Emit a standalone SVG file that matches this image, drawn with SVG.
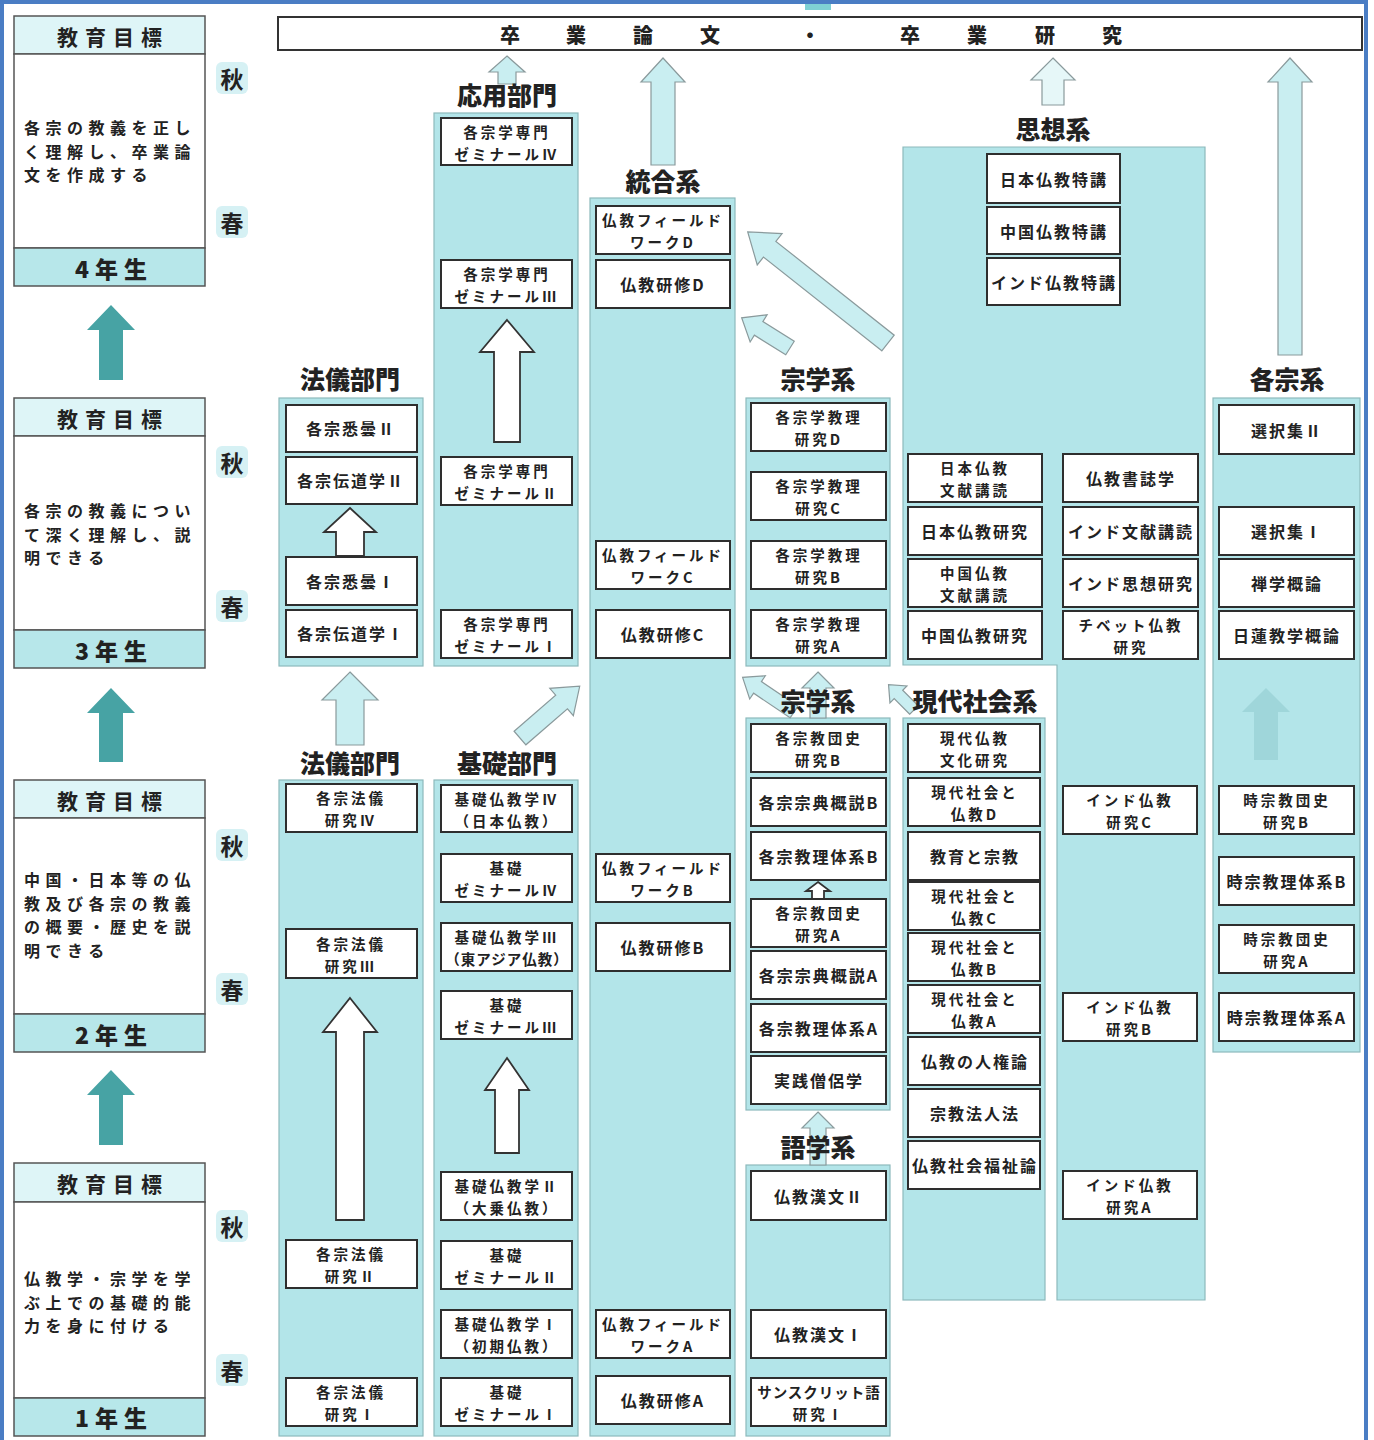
<svg xmlns="http://www.w3.org/2000/svg" width="1374" height="1440" viewBox="0 0 1374 1440">
<style>
text{font-family:"Noto Sans CJK JP","Noto Sans",sans-serif;fill:#222}
.col{fill:#b3e5e9;stroke:#8db9bc;stroke-width:1.2}
.box{fill:#fff;stroke:#2e2e2e;stroke-width:2}
.t{font-size:16px;font-weight:700;text-anchor:middle;letter-spacing:2px;dominant-baseline:central}
.t2{font-size:14.5px;font-weight:700;text-anchor:middle;letter-spacing:3px;dominant-baseline:central}
.tn{letter-spacing:1px}
.lbl{font-size:25px;font-weight:900;text-anchor:middle;dominant-baseline:central}
.gh{fill:#def5f7;stroke:#555;stroke-width:1.5}
.gb{fill:#fff;stroke:#555;stroke-width:1.5}
.gf{fill:#b7e7ea;stroke:#555;stroke-width:1.5}
.ght{font-size:21px;font-weight:700;text-anchor:middle;letter-spacing:7px;dominant-baseline:central}
.gft{font-size:23px;font-weight:900;text-anchor:middle;letter-spacing:6px;dominant-baseline:central}
.gtx{font-size:16px;font-weight:700;letter-spacing:5.5px}
.sbg{fill:#d6f1f4}
.sn{font-size:23px;font-weight:700;text-anchor:middle;dominant-baseline:central}
.ya{fill:#47a3a4}
.la{fill:#c9eef1;stroke:#8a9a9c;stroke-width:1.2}
.wa{fill:#fff;stroke:#333;stroke-width:1.8}
.fa{fill:#9fd6da}
.tt{font-size:20px;font-weight:900;text-anchor:middle;dominant-baseline:central}
</style>

<rect x="2" y="2" width="1364" height="1446" fill="#fff" stroke="#4a7dc4" stroke-width="4"/>
<rect x="805" y="4" width="26" height="6" fill="#7fd0d4"/>

<!-- Title -->
<g id="title">
<rect x="278" y="17" width="1084" height="33" fill="#fff" stroke="#333" stroke-width="2"/>
<text class="tt" y="34"><tspan x="510">卒</tspan><tspan x="576">業</tspan><tspan x="643">論</tspan><tspan x="710">文</tspan><tspan x="810">・</tspan><tspan x="910">卒</tspan><tspan x="977">業</tspan><tspan x="1045">研</tspan><tspan x="1112">究</tspan></text>
</g>

<!-- Year goals -->
<g id="year4">
<rect class="gh" x="14" y="16" width="191" height="38"/>
<rect class="gb" x="14" y="54" width="191" height="194"/>
<rect class="gf" x="14" y="248" width="191" height="38"/>
<text class="ght" x="113" y="36">教育目標</text>
<text class="gtx"><tspan x="24" y="134">各宗の教義を正し</tspan><tspan x="24" y="157.5">く理解し、卒業論</tspan><tspan x="24" y="181">文を作成する</tspan></text>
<text class="gft" x="114" y="268">4年生</text>
</g>
<g id="year3">
<rect class="gh" x="14" y="398" width="191" height="38"/>
<rect class="gb" x="14" y="436" width="191" height="194"/>
<rect class="gf" x="14" y="630" width="191" height="38"/>
<text class="ght" x="113" y="418">教育目標</text>
<text class="gtx"><tspan x="24" y="517">各宗の教義につい</tspan><tspan x="24" y="540.5">て深く理解し、説</tspan><tspan x="24" y="564">明できる</tspan></text>
<text class="gft" x="114" y="650">3年生</text>
</g>
<g id="year2">
<rect class="gh" x="14" y="780" width="191" height="38"/>
<rect class="gb" x="14" y="818" width="191" height="196"/>
<rect class="gf" x="14" y="1014" width="191" height="38"/>
<text class="ght" x="113" y="800">教育目標</text>
<text class="gtx"><tspan x="24" y="886">中国・日本等の仏</tspan><tspan x="24" y="909.5">教及び各宗の教義</tspan><tspan x="24" y="933">の概要・歴史を説</tspan><tspan x="24" y="956.5">明できる</tspan></text>
<text class="gft" x="114" y="1034">2年生</text>
</g>
<g id="year1">
<rect class="gh" x="14" y="1163" width="191" height="39"/>
<rect class="gb" x="14" y="1202" width="191" height="196"/>
<rect class="gf" x="14" y="1398" width="191" height="38"/>
<text class="ght" x="113" y="1183">教育目標</text>
<text class="gtx"><tspan x="24" y="1285">仏教学・宗学を学</tspan><tspan x="24" y="1308.5">ぶ上での基礎的能</tspan><tspan x="24" y="1332">力を身に付ける</tspan></text>
<text class="gft" x="114" y="1417">1年生</text>
</g>

<g id="seasons">
<rect class="sbg" x="216" y="62" width="32" height="32" rx="6"/><text class="sn" x="232" y="78">秋</text>
<rect class="sbg" x="216" y="206" width="32" height="32" rx="6"/><text class="sn" x="232" y="222">春</text>
<rect class="sbg" x="216" y="446" width="32" height="32" rx="6"/><text class="sn" x="232" y="462">秋</text>
<rect class="sbg" x="216" y="590" width="32" height="32" rx="6"/><text class="sn" x="232" y="606">春</text>
<rect class="sbg" x="216" y="829" width="32" height="32" rx="6"/><text class="sn" x="232" y="845">秋</text>
<rect class="sbg" x="216" y="973" width="32" height="32" rx="6"/><text class="sn" x="232" y="989">春</text>
<rect class="sbg" x="216" y="1210" width="32" height="32" rx="6"/><text class="sn" x="232" y="1226">秋</text>
<rect class="sbg" x="216" y="1354" width="32" height="32" rx="6"/><text class="sn" x="232" y="1370">春</text>
</g>

<!-- Column backgrounds -->
<g id="columns">
<rect class="col" x="279" y="398" width="144" height="268"/>
<rect class="col" x="279" y="780" width="144" height="656"/>
<rect class="col" x="434" y="113" width="144" height="553"/>
<rect class="col" x="434" y="780" width="144" height="656"/>
<rect class="col" x="590" y="198" width="145" height="1238"/>
<rect class="col" x="746" y="398" width="144" height="268"/>
<rect class="col" x="746" y="718" width="144" height="392"/>
<rect class="col" x="746" y="1165" width="144" height="271"/>
<path class="col" d="M903,147 H1205 V1300 H1057 V665 H903 Z"/>
<rect class="col" x="903" y="718" width="142" height="582"/>
<rect class="col" x="1213" y="398" width="147" height="654"/>
</g>

<!-- Connectors -->
<g id="connectors">
<polygon class="ya" points="111,305 135,330 123,330 123,380 99,380 99,330 87,330"/>
<polygon class="ya" points="111,688 135,713 123,713 123,762 99,762 99,713 87,713"/>
<polygon class="ya" points="111,1070 135,1095 123,1095 123,1145 99,1145 99,1095 87,1095"/>
<polygon class="la" points="507,56 525,72 516,72 516,84 498,84 498,72 489,72"/>
<polygon class="la" points="663,58 685,82 675,82 675,165 651,165 651,82 641,82"/>
<polygon points="1053,58 1075,80 1064,80 1064,105 1042,105 1042,80 1031,80" fill="#e6f7f8" stroke="#8a9a9c" stroke-width="1.2"/>
<polygon class="la" points="1290,58 1312,82 1302,82 1302,355 1278,355 1278,82 1268,82"/>
<polygon class="la" points="350,672 378,700 364,700 364,745 336,745 336,700 322,700"/>
<polygon class="la" points="818,672 834,688 826,688 826,718 810,718 810,688 802,688"/>
<polygon class="la" points="818,1112 834,1128 826,1128 826,1165 810,1165 810,1128 802,1128"/>
<polygon class="fa" points="1266,688 1290,712 1278,712 1278,760 1254,760 1254,712 1242,712"/>
<polygon class="la" transform="translate(888,343) rotate(218.4)" points="0,-10 151,-10 151,-20 179,0 151,20 151,10 0,10"/>
<polygon class="la" transform="translate(790,348) rotate(212)" points="0,-8 37,-8 37,-16 57,0 37,16 37,8 0,8"/>
<polygon class="la" transform="translate(520,738) rotate(-40.9)" points="0,-9 55,-9 55,-18 79,0 55,18 55,9 0,9"/>
<polygon class="la" transform="translate(794,712) rotate(214)" points="0,-7 44,-7 44,-14 62,0 44,14 44,7 0,7"/>
<polygon class="la" transform="translate(914,710) rotate(225)" points="0,-6 22,-6 22,-12 36,0 22,12 22,6 0,6"/>
<polygon class="wa" points="350,508 376,532 364,532 364,556 336,556 336,532 324,532"/>
<polygon class="wa" points="507,320 534,352 520,352 520,442 494,442 494,352 480,352"/>
<polygon class="wa" points="350,998 377,1032 364,1032 364,1220 336,1220 336,1032 323,1032"/>
<polygon class="wa" points="507,1058 529,1090 519,1090 519,1153 495,1153 495,1090 485,1090"/>
<polygon class="wa" points="818,882 830,891 824,891 824,899 812,899 812,891 806,891"/>
</g>

<!-- Column labels -->
<g id="labels">
<text class="lbl" x="350" y="378">法儀部門</text>
<text class="lbl" x="350" y="762">法儀部門</text>
<text class="lbl" x="507" y="94">応用部門</text>
<text class="lbl" x="507" y="762">基礎部門</text>
<text class="lbl" x="663" y="180">統合系</text>
<text class="lbl" x="818" y="378">宗学系</text>
<text class="lbl" x="818" y="700">宗学系</text>
<text class="lbl" x="818" y="1146">語学系</text>
<text class="lbl" x="1053" y="128">思想系</text>
<text class="lbl" x="975" y="700">現代社会系</text>
<text class="lbl" x="1287" y="378">各宗系</text>
</g>

<!-- 法儀部門 (upper) -->
<g id="n-shittan2"><rect class="box" x="286" y="405" width="131" height="47"/><text class="t" x="351" y="428">各宗悉曇Ⅱ</text></g>
<g id="n-dendo2"><rect class="box" x="286" y="457" width="131" height="47"/><text class="t" x="351" y="480">各宗伝道学Ⅱ</text></g>
<g id="n-shittan1"><rect class="box" x="286" y="557" width="131" height="48"/><text class="t" x="351" y="581">各宗悉曇Ⅰ</text></g>
<g id="n-dendo1"><rect class="box" x="286" y="610" width="131" height="47"/><text class="t" x="351" y="633">各宗伝道学Ⅰ</text></g>

<!-- 応用部門 -->
<g id="n-semi4"><rect class="box" x="441" y="118" width="131" height="47"/><text class="t2"><tspan x="507" y="130.5">各宗学専門</tspan><tspan x="507" y="152.5">ゼミナールⅣ</tspan></text></g>
<g id="n-semi3"><rect class="box" x="441" y="260" width="131" height="48"/><text class="t2"><tspan x="507" y="273">各宗学専門</tspan><tspan x="507" y="295">ゼミナールⅢ</tspan></text></g>
<g id="n-semi2"><rect class="box" x="441" y="457" width="131" height="48"/><text class="t2"><tspan x="507" y="470">各宗学専門</tspan><tspan x="507" y="492">ゼミナールⅡ</tspan></text></g>
<g id="n-semi1"><rect class="box" x="441" y="610" width="131" height="48"/><text class="t2"><tspan x="507" y="623">各宗学専門</tspan><tspan x="507" y="645">ゼミナールⅠ</tspan></text></g>

<!-- 法儀部門 (lower) -->
<g id="n-hogi4"><rect class="box" x="286" y="784" width="131" height="48"/><text class="t2"><tspan x="351" y="797">各宗法儀</tspan><tspan x="351" y="819">研究Ⅳ</tspan></text></g>
<g id="n-hogi3"><rect class="box" x="286" y="929" width="131" height="49"/><text class="t2"><tspan x="351" y="942.5">各宗法儀</tspan><tspan x="351" y="964.5">研究Ⅲ</tspan></text></g>
<g id="n-hogi2"><rect class="box" x="286" y="1240" width="131" height="48"/><text class="t2"><tspan x="351" y="1253">各宗法儀</tspan><tspan x="351" y="1275">研究Ⅱ</tspan></text></g>
<g id="n-hogi1"><rect class="box" x="286" y="1378" width="131" height="48"/><text class="t2"><tspan x="351" y="1391">各宗法儀</tspan><tspan x="351" y="1413">研究Ⅰ</tspan></text></g>

<!-- 基礎部門 -->
<g id="n-kiso-b4"><rect class="box" x="441" y="785" width="131" height="47"/><text class="t2"><tspan x="507" y="797.5">基礎仏教学Ⅳ</tspan><tspan x="507" y="819.5">（日本仏教）</tspan></text></g>
<g id="n-kiso-s4"><rect class="box" x="441" y="854" width="131" height="48"/><text class="t2"><tspan x="507" y="867">基礎</tspan><tspan x="507" y="889">ゼミナールⅣ</tspan></text></g>
<g id="n-kiso-b3"><rect class="box" x="441" y="923" width="131" height="48"/><text class="t2"><tspan x="507" y="936">基礎仏教学Ⅲ</tspan><tspan class="tn" x="507" y="958">（東アジア仏教）</tspan></text></g>
<g id="n-kiso-s3"><rect class="box" x="441" y="991" width="131" height="48"/><text class="t2"><tspan x="507" y="1004">基礎</tspan><tspan x="507" y="1026">ゼミナールⅢ</tspan></text></g>
<g id="n-kiso-b2"><rect class="box" x="441" y="1172" width="131" height="48"/><text class="t2"><tspan x="507" y="1185">基礎仏教学Ⅱ</tspan><tspan x="507" y="1207">（大乗仏教）</tspan></text></g>
<g id="n-kiso-s2"><rect class="box" x="441" y="1241" width="131" height="48"/><text class="t2"><tspan x="507" y="1254">基礎</tspan><tspan x="507" y="1276">ゼミナールⅡ</tspan></text></g>
<g id="n-kiso-b1"><rect class="box" x="441" y="1310" width="131" height="48"/><text class="t2"><tspan x="507" y="1323">基礎仏教学Ⅰ</tspan><tspan x="507" y="1345">（初期仏教）</tspan></text></g>
<g id="n-kiso-s1"><rect class="box" x="441" y="1378" width="131" height="48"/><text class="t2"><tspan x="507" y="1391">基礎</tspan><tspan x="507" y="1413">ゼミナールⅠ</tspan></text></g>

<!-- 統合系 -->
<g id="n-fwD"><rect class="box" x="596" y="206" width="134" height="48"/><text class="t2"><tspan x="663" y="219">仏教フィールド</tspan><tspan x="663" y="241">ワークD</tspan></text></g>
<g id="n-kenD"><rect class="box" x="596" y="260" width="134" height="48"/><text class="t" x="663" y="284">仏教研修D</text></g>
<g id="n-fwC"><rect class="box" x="596" y="541" width="134" height="48"/><text class="t2"><tspan x="663" y="554">仏教フィールド</tspan><tspan x="663" y="576">ワークC</tspan></text></g>
<g id="n-kenC"><rect class="box" x="596" y="610" width="134" height="48"/><text class="t" x="663" y="634">仏教研修C</text></g>
<g id="n-fwB"><rect class="box" x="596" y="854" width="134" height="48"/><text class="t2"><tspan x="663" y="867">仏教フィールド</tspan><tspan x="663" y="889">ワークB</tspan></text></g>
<g id="n-kenB"><rect class="box" x="596" y="923" width="134" height="48"/><text class="t" x="663" y="947">仏教研修B</text></g>
<g id="n-fwA"><rect class="box" x="596" y="1310" width="134" height="48"/><text class="t2"><tspan x="663" y="1323">仏教フィールド</tspan><tspan x="663" y="1345">ワークA</tspan></text></g>
<g id="n-kenA"><rect class="box" x="596" y="1376" width="134" height="48"/><text class="t" x="663" y="1400">仏教研修A</text></g>

<!-- 宗学系 (upper) -->
<g id="n-kyoriD"><rect class="box" x="751" y="403" width="135" height="48"/><text class="t2"><tspan x="819" y="416">各宗学教理</tspan><tspan x="819" y="438">研究D</tspan></text></g>
<g id="n-kyoriC"><rect class="box" x="751" y="472" width="135" height="48"/><text class="t2"><tspan x="819" y="485">各宗学教理</tspan><tspan x="819" y="507">研究C</tspan></text></g>
<g id="n-kyoriB"><rect class="box" x="751" y="541" width="135" height="48"/><text class="t2"><tspan x="819" y="554">各宗学教理</tspan><tspan x="819" y="576">研究B</tspan></text></g>
<g id="n-kyoriA"><rect class="box" x="751" y="610" width="135" height="48"/><text class="t2"><tspan x="819" y="623">各宗学教理</tspan><tspan x="819" y="645">研究A</tspan></text></g>

<!-- 宗学系 (lower) -->
<g id="n-kyodanB"><rect class="box" x="751" y="724" width="135" height="48"/><text class="t2"><tspan x="819" y="737">各宗教団史</tspan><tspan x="819" y="759">研究B</tspan></text></g>
<g id="n-shutenB"><rect class="box" x="751" y="778" width="135" height="48"/><text class="t" x="819" y="802">各宗宗典概説B</text></g>
<g id="n-taikeiB"><rect class="box" x="751" y="832" width="135" height="48"/><text class="t" x="819" y="856">各宗教理体系B</text></g>
<g id="n-kyodanA"><rect class="box" x="751" y="899" width="135" height="48"/><text class="t2"><tspan x="819" y="912">各宗教団史</tspan><tspan x="819" y="934">研究A</tspan></text></g>
<g id="n-shutenA"><rect class="box" x="751" y="951" width="135" height="48"/><text class="t" x="819" y="975">各宗宗典概説A</text></g>
<g id="n-taikeiA"><rect class="box" x="751" y="1004" width="135" height="48"/><text class="t" x="819" y="1028">各宗教理体系A</text></g>
<g id="n-jissen"><rect class="box" x="751" y="1056" width="135" height="48"/><text class="t" x="819" y="1080">実践僧侶学</text></g>

<!-- 語学系 -->
<g id="n-kanbun2"><rect class="box" x="751" y="1171" width="135" height="49"/><text class="t" x="819" y="1196">仏教漢文Ⅱ</text></g>
<g id="n-kanbun1"><rect class="box" x="751" y="1310" width="135" height="48"/><text class="t" x="819" y="1334">仏教漢文Ⅰ</text></g>
<g id="n-sanskrit"><rect class="box" x="751" y="1378" width="135" height="48"/><text class="t2"><tspan class="tn" x="819" y="1391">サンスクリット語</tspan><tspan x="819" y="1413">研究Ⅰ</tspan></text></g>

<!-- 思想系 -->
<g id="n-tokko-jp"><rect class="box" x="987" y="154" width="133" height="49"/><text class="t" x="1054" y="179">日本仏教特講</text></g>
<g id="n-tokko-cn"><rect class="box" x="987" y="207" width="133" height="47"/><text class="t" x="1054" y="231">中国仏教特講</text></g>
<g id="n-tokko-in"><rect class="box" x="987" y="258" width="133" height="47"/><text class="t" x="1054" y="282">インド仏教特講</text></g>
<g id="n-jp-bunken"><rect class="box" x="908" y="454" width="134" height="48"/><text class="t2"><tspan x="975" y="467">日本仏教</tspan><tspan x="975" y="489">文献講読</tspan></text></g>
<g id="n-jp-kenkyu"><rect class="box" x="908" y="507" width="134" height="48"/><text class="t" x="975" y="531">日本仏教研究</text></g>
<g id="n-cn-bunken"><rect class="box" x="908" y="559" width="134" height="48"/><text class="t2"><tspan x="975" y="572">中国仏教</tspan><tspan x="975" y="594">文献講読</tspan></text></g>
<g id="n-cn-kenkyu"><rect class="box" x="908" y="611" width="134" height="48"/><text class="t" x="975" y="635">中国仏教研究</text></g>
<g id="n-shoshi"><rect class="box" x="1063" y="454" width="135" height="48"/><text class="t" x="1131" y="478">仏教書誌学</text></g>
<g id="n-in-bunken"><rect class="box" x="1063" y="507" width="135" height="48"/><text class="t" x="1131" y="531">インド文献講読</text></g>
<g id="n-in-shiso"><rect class="box" x="1063" y="559" width="135" height="48"/><text class="t" x="1131" y="583">インド思想研究</text></g>
<g id="n-tibet"><rect class="box" x="1063" y="611" width="135" height="48"/><text class="t2"><tspan x="1131" y="624">チベット仏教</tspan><tspan x="1131" y="646">研究</tspan></text></g>
<g id="n-indoC"><rect class="box" x="1063" y="786" width="134" height="48"/><text class="t2"><tspan x="1130" y="799">インド仏教</tspan><tspan x="1130" y="821">研究C</tspan></text></g>
<g id="n-indoB"><rect class="box" x="1063" y="993" width="134" height="48"/><text class="t2"><tspan x="1130" y="1006">インド仏教</tspan><tspan x="1130" y="1028">研究B</tspan></text></g>
<g id="n-indoA"><rect class="box" x="1063" y="1171" width="134" height="48"/><text class="t2"><tspan x="1130" y="1184">インド仏教</tspan><tspan x="1130" y="1206">研究A</tspan></text></g>

<!-- 現代社会系 -->
<g id="n-gendai-bunka"><rect class="box" x="908" y="724" width="132" height="48"/><text class="t2"><tspan x="975" y="737">現代仏教</tspan><tspan x="975" y="759">文化研究</tspan></text></g>
<g id="n-gendaiD"><rect class="box" x="908" y="778" width="132" height="48"/><text class="t2"><tspan x="975" y="791">現代社会と</tspan><tspan x="975" y="813">仏教D</tspan></text></g>
<g id="n-kyoiku"><rect class="box" x="908" y="832" width="132" height="48"/><text class="t" x="975" y="856">教育と宗教</text></g>
<g id="n-gendaiC"><rect class="box" x="908" y="882" width="132" height="48"/><text class="t2"><tspan x="975" y="895">現代社会と</tspan><tspan x="975" y="917">仏教C</tspan></text></g>
<g id="n-gendaiB"><rect class="box" x="908" y="933" width="132" height="48"/><text class="t2"><tspan x="975" y="946">現代社会と</tspan><tspan x="975" y="968">仏教B</tspan></text></g>
<g id="n-gendaiA"><rect class="box" x="908" y="985" width="132" height="48"/><text class="t2"><tspan x="975" y="998">現代社会と</tspan><tspan x="975" y="1020">仏教A</tspan></text></g>
<g id="n-jinken"><rect class="box" x="908" y="1037" width="132" height="48"/><text class="t" x="975" y="1061">仏教の人権論</text></g>
<g id="n-hojin"><rect class="box" x="908" y="1089" width="132" height="48"/><text class="t" x="975" y="1113">宗教法人法</text></g>
<g id="n-fukushi"><rect class="box" x="908" y="1141" width="132" height="48"/><text class="t" x="975" y="1165">仏教社会福祉論</text></g>

<!-- 各宗系 -->
<g id="n-senjaku2"><rect class="box" x="1219" y="405" width="135" height="49"/><text class="t" x="1287" y="430">選択集Ⅱ</text></g>
<g id="n-senjaku1"><rect class="box" x="1219" y="507" width="135" height="48"/><text class="t" x="1287" y="531">選択集Ⅰ</text></g>
<g id="n-zen"><rect class="box" x="1219" y="559" width="135" height="48"/><text class="t" x="1287" y="583">禅学概論</text></g>
<g id="n-nichiren"><rect class="box" x="1219" y="611" width="135" height="48"/><text class="t" x="1287" y="635">日蓮教学概論</text></g>
<g id="n-jishu-kyodanB"><rect class="box" x="1219" y="786" width="135" height="48"/><text class="t2"><tspan x="1287" y="799">時宗教団史</tspan><tspan x="1287" y="821">研究B</tspan></text></g>
<g id="n-jishu-taikeiB"><rect class="box" x="1219" y="857" width="135" height="48"/><text class="t" x="1287" y="881">時宗教理体系B</text></g>
<g id="n-jishu-kyodanA"><rect class="box" x="1219" y="925" width="135" height="48"/><text class="t2"><tspan x="1287" y="938">時宗教団史</tspan><tspan x="1287" y="960">研究A</tspan></text></g>
<g id="n-jishu-taikeiA"><rect class="box" x="1219" y="993" width="135" height="48"/><text class="t" x="1287" y="1017">時宗教理体系A</text></g>
</svg>
